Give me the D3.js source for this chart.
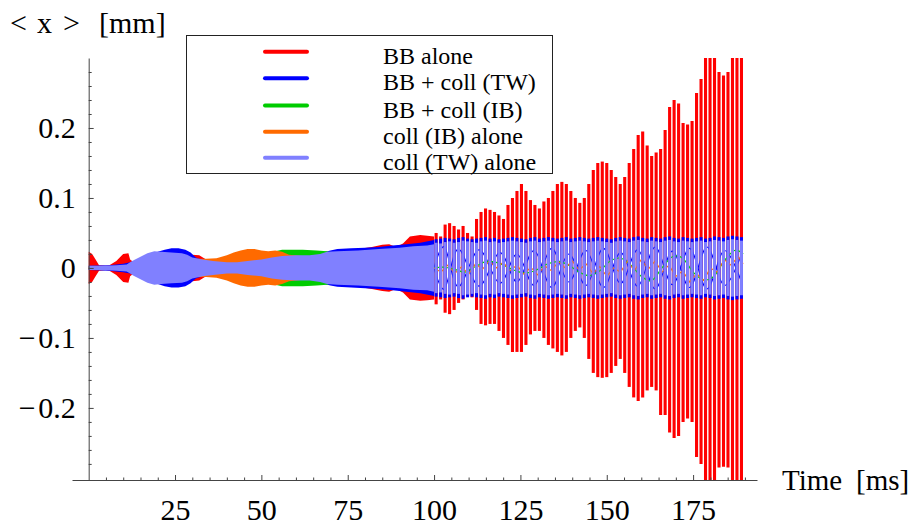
<!DOCTYPE html>
<html><head><meta charset="utf-8">
<script src="https://cdn.jsdelivr.net/npm/d3@7"></script>
<style>
body{margin:0;background:#fff}
svg{display:block;background:#fff}
text{font-family:"Liberation Serif","Times New Roman",serif;fill:#000}
</style>
</head><body><svg id="c" width="912" height="530"></svg>
<script>
// ---------------- DATA ----------------
const seriesNames  = ["BB alone","BB + coll (TW)","BB + coll (IB)","coll (IB) alone","coll (TW) alone"];
const seriesColors = ["#ff0000","#0000ff","#00cc00","#ff6a00","#8080ff"];

const xTickVals   = [25,50,75,100,125,150,175];
const xTickLabels = ["25","50","75","100","125","150","175"];
const xMinorVals  = [5,10,15,20,30,35,40,45,55,60,65,70,80,85,90,95,105,110,115,120,130,135,140,145,155,160,165,170,180,185,190];
const yTickVals   = [-0.2,-0.1,0,0.1,0.2];
const yTickLabels = ["\u2212\u200A0.2","\u2212\u200A0.1","0","0.1","0.2"];
const yMinorVals  = [-0.28,-0.26,-0.24,-0.22,-0.18,-0.16,-0.14,-0.12,-0.08,-0.06,-0.04,-0.02,0.02,0.04,0.06,0.08,0.12,0.14,0.16,0.18,0.22,0.24,0.26,0.28];
const yTitleParts = ["<","x",">","[mm]"];
const xTitleParts = ["Time","[ms]"];

// dense part (0-100 ms): oscillation envelope [time ms, amplitude mm]
const redEnv = [[0,0.023],[1,0.02],[2,0.012],[3,0.004],[5,0.003],[6,0.004],[8,0.01],[10,0.02],[11.5,0.021],[12,0.012],[13,0.008],[16,0.007],[20,0.008],[24,0.012],[28,0.016],[30,0.019],[32,0.018],[34,0.012],[38,0.007],[42,0.008],[46,0.012],[50,0.015],[56,0.015],[60,0.012],[66,0.016],[72,0.022],[78,0.027],[82,0.03],[85,0.033],[87,0.034],[89,0.03],[91,0.035],[93,0.045],[96,0.047],[98,0.046],[100,0.045]];
const blueEnv = [[0,0.003],[6,0.004],[10,0.006],[12,0.008],[14,0.011],[16,0.015],[18,0.019],[20,0.023],[22,0.026],[24,0.028],[26,0.028],[28,0.026],[29.5,0.022],[31,0.015],[34,0.01],[38,0.007],[42,0.008],[46,0.011],[50,0.014],[56,0.017],[62,0.018],[66,0.02],[70,0.025],[72,0.027],[76,0.028],[80,0.029],[84,0.03],[88,0.032],[92,0.034],[96,0.036],[100,0.04]];
const greenEnv = [[0,0.002],[10,0.002],[14,0.005],[20,0.008],[26,0.01],[34,0.011],[38,0.012],[42,0.016],[46,0.019],[50,0.021],[54,0.024],[56,0.026],[62,0.026],[66,0.025],[69,0.024],[71,0.02],[74,0.017],[100,0.018]];
const orangeEnv = [[0,0.002],[10,0.002],[14,0.004],[20,0.008],[26,0.012],[30,0.013],[34,0.013],[37,0.014],[40,0.018],[42,0.022],[44,0.025],[46,0.027],[48,0.027],[50,0.025],[52,0.024],[54,0.025],[56,0.023],[58,0.019],[62,0.017],[100,0.016]];
const lbEnv = [[0,0.003],[4,0.003],[8,0.004],[11,0.005],[12,0.008],[13,0.011],[15,0.016],[17,0.021],[19,0.024],[21,0.023],[24,0.022],[27,0.021],[28.5,0.019],[30,0.015],[33,0.012],[36,0.01],[40,0.008],[43,0.008],[46,0.01],[50,0.012],[53,0.015],[56,0.017],[60,0.018],[64,0.018],[67,0.02],[69,0.023],[72,0.024],[78,0.025],[84,0.027],[90,0.029],[94,0.031],[98,0.032],[100,0.034]];

// resolved part (100-190 ms): one stripe per sample
const stripeT = [100.6,101.9,103.2,104.5,105.8,107.1,108.4,109.7,111.0,112.3,113.6,114.9,116.2,117.5,118.8,120.1,121.4,122.7,124.0,125.3,126.6,127.9,129.2,130.5,131.8,133.1,134.4,135.7,137.0,138.3,139.6,140.9,142.2,143.5,144.8,146.1,147.4,148.7,150.0,151.3,152.6,153.9,155.2,156.5,157.8,159.1,160.4,161.7,163.0,164.3,165.6,166.9,168.2,169.5,170.8,172.1,173.4,174.7,176.0,177.3,178.6,179.9,181.2,182.5,183.8,185.1,186.4,187.7,189.0];
const redHi = [0.05,0.045,0.062,0.064,0.06,0.055,0.06,0.05,0.045,0.07, 0.08,0.085,0.083,0.08,0.075,0.07,0.09,0.1,0.11,0.12, 0.11,0.097,0.09,0.085,0.095,0.1,0.11,0.12,0.123,0.12, 0.11,0.1,0.093,0.1,0.12,0.14,0.15,0.152,0.15,0.14, 0.13,0.12,0.13,0.15,0.17,0.19,0.195,0.175,0.16,0.165, 0.17,0.197,0.23,0.24,0.235,0.207,0.205,0.21,0.25,0.27, 0.32,0.32,0.32,0.28,0.275,0.28,0.32,0.32,0.32];
const redLo = [0.052,0.045,0.064,0.066,0.06,0.05,0.045,0.04,0.042,0.06, 0.08,0.082,0.08,0.08,0.09,0.1,0.11,0.12,0.12,0.12, 0.11,0.095,0.09,0.09,0.1,0.11,0.115,0.12,0.125,0.12, 0.1,0.09,0.085,0.1,0.13,0.15,0.156,0.157,0.156,0.15, 0.14,0.13,0.15,0.17,0.185,0.19,0.185,0.175,0.17,0.175, 0.21,0.21,0.235,0.243,0.24,0.22,0.215,0.22,0.27,0.28, 0.32,0.32,0.32,0.285,0.284,0.285,0.32,0.32,0.32];
const blueAmp = [0.041,0.042,0.043,0.042,0.041,0.043,0.044,0.042,0.041,0.042, 0.043,0.044,0.042,0.043,0.041,0.042,0.043,0.044,0.043,0.042, 0.041,0.043,0.044,0.042,0.043,0.044,0.043,0.042,0.043,0.044, 0.042,0.043,0.044,0.043,0.042,0.043,0.044,0.043,0.042,0.041, 0.043,0.044,0.043,0.042,0.044,0.045,0.043,0.042,0.044,0.043, 0.042,0.044,0.045,0.043,0.042,0.044,0.043,0.042,0.043,0.044, 0.042,0.043,0.045,0.044,0.043,0.045,0.046,0.045,0.044];
const lbAmp = [0.036,0.035,0.037,0.038,0.036,0.037,0.039,0.038,0.037,0.036, 0.038,0.039,0.037,0.038,0.036,0.037,0.038,0.039,0.038,0.037, 0.036,0.038,0.039,0.037,0.038,0.039,0.038,0.037,0.038,0.039, 0.037,0.038,0.039,0.038,0.037,0.038,0.039,0.038,0.037,0.036, 0.038,0.039,0.038,0.037,0.039,0.04,0.038,0.037,0.039,0.038, 0.037,0.039,0.04,0.038,0.037,0.039,0.038,0.037,0.038,0.039, 0.037,0.038,0.04,0.039,0.038,0.04,0.041,0.04,0.039];

// slow traces visible between the stripes [time ms, x mm]
const blueTrace = [[100,0.0],[103,0.03],[107,-0.027],[113,0.026],[119,-0.022],[124,0.02],[129,-0.025],[134,0.028],[139,-0.02],[144,0.025],[149,-0.028],[154,0.022],[159,-0.026],[164,0.03],[169,-0.024],[174,0.028],[179,-0.03],[184,0.025],[189,-0.02]];
const greenTrace = [[100,0.0],[103,0.001],[106,-0.002],[109,-0.006],[112,0.002],[115,0.009],[118,0.008],[121,0.002],[124,-0.005],[127,-0.007],[130,-0.002],[133,0.006],[136,0.009],[139,0.004],[142,-0.006],[145,-0.011],[148,-0.004],[151,0.01],[154,0.014],[157,0.004],[160,-0.012],[163,-0.018],[166,0.0],[169,0.016],[172,0.014],[175,-0.006],[178,-0.017],[181,-0.012],[184,0.01],[187,0.025],[189.5,0.02]];
const orangeTrace = [[100,0.0],[102,-0.006],[104,0.004],[106,-0.008],[108,0.002],[110,-0.009],[112,0.006],[114,-0.002],[116,0.01],[118,0.0],[120,0.008],[122,-0.004],[124,0.004],[126,-0.009],[128,0.001],[130,-0.01],[132,0.003],[134,-0.004],[136,0.009],[138,0.0],[140,0.01],[142,-0.003],[144,0.006],[146,-0.008],[148,0.002],[150,-0.012],[152,0.0],[154,-0.006],[156,0.01],[158,-0.004],[160,0.012],[162,-0.002],[164,0.01],[166,-0.006],[168,0.004],[170,-0.012],[172,-0.004],[174,-0.02],[176,-0.008],[178,-0.018],[180,0.0],[182,-0.006],[184,0.012],[186,0.004],[188,0.016],[189.5,0.006]];

// ---------------- DRAWING ----------------
const svg = d3.select("#c");
const FONT = '"Liberation Serif","Times New Roman",serif';
const x = d3.scaleLinear().domain([-4.83, 193.5]).range([72, 757]);
const y = d3.scaleLinear().domain([-0.303, 0.30]).range([480, 58]);

svg.append("defs").append("clipPath").attr("id","clip")
  .append("rect").attr("x",72).attr("y",y(0.30)).attr("width",757-72).attr("height",y(-0.303)-y(0.30));

const plot = svg.append("g").attr("clip-path","url(#clip)");
const area = d3.area().x(d=>x(d[0])).y0(d=>y(-d[1])).y1(d=>y(d[1]));

function stripes(g, hi, lo, color, w){
  g.append("g").selectAll("line").data(stripeT).join("line")
    .attr("x1",(t)=>x(t)).attr("x2",(t)=>x(t))
    .attr("y1",(t,i)=>y(hi[i])).attr("y2",(t,i)=>y(-lo[i]))
    .attr("stroke",color).attr("stroke-width",w);
}
const lineLin = d3.line().x(d=>x(d[0])).y(d=>y(d[1]));
const lineSm  = d3.line().x(d=>x(d[0])).y(d=>y(d[1])).curve(d3.curveCardinal);
const lineSmMirror = d3.line().x(d=>x(d[0])).y(d=>y(-d[1])).curve(d3.curveCardinal);

// 1. BB alone (red)
plot.append("path").attr("d",area(redEnv)).attr("fill",seriesColors[0]);
stripes(plot, redHi, redLo, seriesColors[0], 3.1);
// 2. BB + coll (TW) (blue)
plot.append("path").attr("d",area(blueEnv)).attr("fill",seriesColors[1]);
stripes(plot, blueAmp, blueAmp, seriesColors[1], 3.0);
plot.append("path").attr("d",lineSm(blueTrace)).attr("fill","none").attr("stroke",seriesColors[1]).attr("stroke-width",1.1);
plot.append("path").attr("d",lineSmMirror(blueTrace)).attr("fill","none").attr("stroke",seriesColors[1]).attr("stroke-width",1.1);
// 3. BB + coll (IB) (green)
plot.append("path").attr("d",area(greenEnv)).attr("fill",seriesColors[2]);
plot.append("path").attr("d",lineSm(greenTrace)).attr("fill","none").attr("stroke",seriesColors[2]).attr("stroke-width",1.2);
// 4. coll (IB) alone (orange)
plot.append("path").attr("d",area(orangeEnv)).attr("fill",seriesColors[3]);
plot.append("path").attr("d",lineLin(orangeTrace)).attr("fill","none").attr("stroke",seriesColors[3]).attr("stroke-width",1.1);
// 5. coll (TW) alone (light blue)
plot.append("path").attr("d",area(lbEnv)).attr("fill",seriesColors[4]);
stripes(plot, lbAmp, lbAmp, seriesColors[4], 3.0);

// ---------------- AXES ----------------
const AX = "#444";
function styleAxis(g, fs){
  g.attr("font-family",FONT).attr("font-size",fs);
  g.selectAll(".domain").attr("stroke",AX);
  g.selectAll(".tick line").attr("stroke",AX);
  g.selectAll(".tick text").attr("fill","#000");
}
const gx = svg.append("g").attr("transform",`translate(0,${y(-0.303)})`)
  .call(d3.axisBottom(x).tickValues(xTickVals).tickFormat((d,i)=>xTickLabels[i]).tickSizeInner(-5).tickSizeOuter(0).tickPadding(19));
styleAxis(gx, 30);
const gxm = svg.append("g").attr("transform",`translate(0,${y(-0.303)})`)
  .call(d3.axisBottom(x).tickValues(xMinorVals).tickFormat("").tickSizeInner(-2.5).tickSizeOuter(0));
gxm.select(".domain").remove(); styleAxis(gxm, 10);

const gy = svg.append("g").attr("transform",`translate(${x(0)},0)`)
  .call(d3.axisLeft(y).tickValues(yTickVals).tickFormat((d,i)=>yTickLabels[i]).tickSizeInner(-5).tickSizeOuter(0).tickPadding(13));
styleAxis(gy, 30);
const gym = svg.append("g").attr("transform",`translate(${x(0)},0)`)
  .call(d3.axisLeft(y).tickValues(yMinorVals).tickFormat("").tickSizeInner(-3).tickSizeOuter(0));
gym.select(".domain").remove(); styleAxis(gym, 10);

// axis titles
const yTitle = svg.append("text").attr("y",33).attr("font-size",30);
[10,37,63,99].forEach((px,i)=>yTitle.append("tspan").attr("x",px).text(yTitleParts[i]));
const xTitle = svg.append("text").attr("y",490).attr("font-size",29);
[782,856].forEach((px,i)=>xTitle.append("tspan").attr("x",px).text(xTitleParts[i]));

// ---------------- LEGEND ----------------
const legendRows = [51.7,78.3,105.5,131.7,157.7];
const lg = svg.append("g");
lg.append("rect").attr("x",186.5).attr("y",35.5).attr("width",366).attr("height",138)
  .attr("fill","#fff").attr("stroke","#222").attr("stroke-width",1);
seriesNames.forEach((name,i)=>{
  lg.append("line").attr("x1",265).attr("x2",307).attr("y1",legendRows[i]).attr("y2",legendRows[i])
    .attr("stroke",seriesColors[i]).attr("stroke-width",4).attr("stroke-linecap","round");
  lg.append("text").attr("x",383).attr("y",legendRows[i]+12).attr("font-size",24).text(name);
});
</script>
</body></html>
